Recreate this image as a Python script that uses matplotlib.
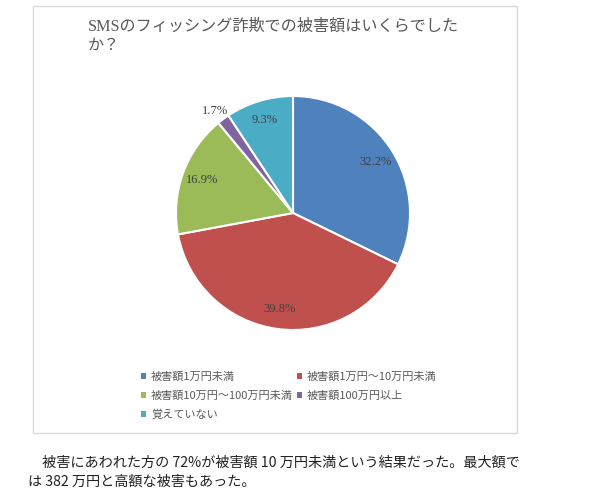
import matplotlib
matplotlib.use("Agg")
import matplotlib.pyplot as plt
from matplotlib.patches import Rectangle

plt.rcParams['font.family'] = ['Noto Sans CJK JP', 'DejaVu Sans']

# data
categories = ["被害額1万円未満", "被害額1万円～10万円未満", "被害額10万円～100万円未満",
              "被害額100万円以上", "覚えていない"]
shares = [32.2, 39.8, 16.9, 1.7, 9.3]
colors = ["#4F81BD", "#C0504D", "#9BBB59", "#8064A2", "#4BACC6"]
title = "SMSのフィッシング詐欺での被害額はいくらでした\nか？"
caption = ["\u3000被害にあわれた方の 72%が被害額 10 万円未満という結果だった。最大額で",
           "は 382 万円と高額な被害もあった。"]

W, H = 590, 500
fig = plt.figure(figsize=(W / 100, H / 100), dpi=100)

# chart frame
fig.patches.append(Rectangle((33 / W, 1 - 433 / H), 484 / W, 427 / H,
                             transform=fig.transFigure, fill=False,
                             edgecolor="#d9d9d9", linewidth=1))

fig.text(88 / W, 1 - 19 / H, title, ha="left", va="top", fontsize=11.6,
         color="#595959", linespacing=1.25,
         family=["Liberation Serif", "Noto Sans CJK JP"])

# pie axes: center (293,213) radius 117 px
cx, cy, r = 293, 213, 117
ax = fig.add_axes([(cx - r) / W, 1 - (cy + r) / H, 2 * r / W, 2 * r / H])
wedges, texts, autotexts = ax.pie(
    shares, colors=colors, startangle=90, counterclock=False,
    autopct="%.1f%%", pctdistance=0.83,
    wedgeprops=dict(edgecolor="white", linewidth=1.5),
    textprops=dict(fontsize=9, color="#404040", family="Liberation Serif"))
ax.set_xlim(-1, 1)
ax.set_ylim(-1, 1)
ax.set_aspect("equal")

# small slice label sits outside
autotexts[3].set_position((-0.67, 0.87))

# legend, filled row by row
order = [0, 2, 4, 1, 3]
leg = fig.legend([wedges[i] for i in order], [categories[i] for i in order],
                 ncol=2, loc="upper left", bbox_to_anchor=(131 / W, 1 - 362 / H),
                 frameon=False, fontsize=8, handlelength=0.45, handleheight=0.45,
                 handletextpad=0.45, columnspacing=0.35, labelspacing=0.78,
                 labelcolor="#595959")
for h in leg.legend_handles:
    h.set_edgecolor("none")

fig.text(28 / W, 1 - 463 / H, caption[0], ha="left", va="center",
         fontsize=10.2, color="#222222")
fig.text(28 / W, 1 - 482 / H, caption[1], ha="left", va="center",
         fontsize=10.2, color="#222222")

fig.savefig("out.png", dpi=100)
